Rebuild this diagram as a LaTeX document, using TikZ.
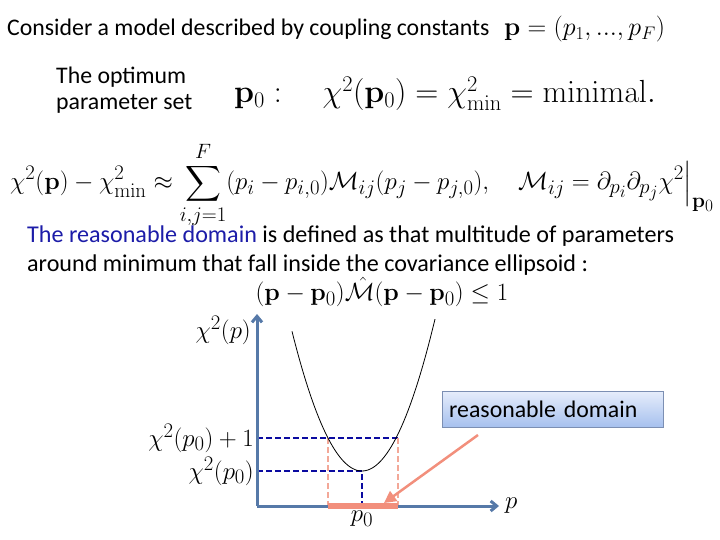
\documentclass[tikz,border=0pt]{standalone}
\usepackage{fix-cm}
\usepackage{amsmath}
\usepackage[no-math]{fontspec}
\setmainfont{Carlito}
\definecolor{axisblue}{HTML}{5679A8}
\definecolor{levelblue}{HTML}{0A0AA0}
\definecolor{salmon}{HTML}{F28F7C}
\definecolor{paleSalmon}{HTML}{F3A898}
\definecolor{textblue}{HTML}{1C1CA8}
\definecolor{boxedge}{HTML}{7C8FB3}
\definecolor{boxtop}{HTML}{E6EDFB}
\definecolor{boxbottom}{HTML}{A6C0EE}
\usetikzlibrary{positioning, arrows.meta}

\begin{document}
\begin{tikzpicture}[x=1pt, y=-1pt,
  txt/.style={font=\fontsize{23.8}{26}\selectfont, inner sep=0pt, align=left},
  mth/.style={font=\fontsize{24.88}{30}\selectfont, inner sep=0pt},
  axis/.style={draw=axisblue, line width=3pt, -{Straight Barb[length=6pt, width=10pt]}},
  level/.style={draw=levelblue, line width=2.2pt, dash pattern=on 6pt off 3pt},
  bound/.style={draw=paleSalmon, line width=2.2pt, dash pattern=on 6pt off 3pt},
  tag/.style={draw=boxedge, top color=boxtop, bottom color=boxbottom,
              minimum width=221pt, minimum height=36pt, inner xsep=7pt,
              text width=207pt, align=left,
              font=\fontsize{23.8}{26}\selectfont},
]
\useasboundingbox (0,0) rectangle (720,540);

% header and formulas
\node[txt, anchor=base west] (intro) at (7,36) {Consider a model described by coupling constants};
\node[mth, anchor=base west, font=\fontsize{26}{30}\selectfont] (pvec) at (504,36) {$\mathbf{p}=(p_1,...,p_F)$};
\node[txt, anchor=base west] (optimum) at (56,110) {The optimum\\parameter set};
\node[mth, anchor=base west, font=\fontsize{32}{38}\selectfont] (minimal) at (234,103)
  {$\mathbf{p}_0:\quad \chi^2(\mathbf{p}_0)=\chi^2_{\min}=\mathrm{minimal.}$};
\node[mth, anchor=west] (expand) at (10,185)
  {$\displaystyle \chi^2(\mathbf{p})-\chi^2_{\min}\approx\sum_{i,j=1}^{F}(p_i-p_{i,0})\mathcal{M}_{ij}(p_j-p_{j,0}),\quad
   \mathcal{M}_{ij}=\partial_{p_i}\partial_{p_j}\chi^2\Big|_{\mathbf{p}_0}$};
\node[txt, anchor=base west, font=\fontsize{24.1}{29}\selectfont] (domain) at (27,271)
  {\textcolor{textblue}{The reasonable domain} is defined as that multitude of parameters\\
   around minimum that fall inside the covariance ellipsoid :};
\node[mth, anchor=center] (ellipsoid) at (382,292)
  {$(\mathbf{p}-\mathbf{p}_0)\hat{\mathcal{M}}(\mathbf{p}-\mathbf{p}_0)\le 1$};

% plot
\coordinate (origin) at (257,506);
\coordinate (ytop) at (257,314);
\coordinate (xend) at (499,506);
\coordinate (minpt) at (362,471);
\coordinate (lcross) at (328,438);
\coordinate (rcross) at (398,438);

\draw[level] (257,438) -- (rcross);
\draw[level] (257,471) -- (minpt) -- (362,506);
\draw[bound] (lcross) -- (328,506);
\draw[bound] (rcross) -- (398,506);
\draw[black, line width=0.8pt, domain=292:435, samples=60, variable=\t]
  plot (\t, {471 - 0.0285*(\t-362)*(\t-362)});
\draw[axis] (origin) -- (ytop);
\draw[axis] (origin) -- (xend);
\draw[salmon, line width=6pt] (lcross |- origin) -- (rcross |- origin);

\node[mth, anchor=east] (ylab) at (251,330) {$\chi^2(p)$};
\node[mth, anchor=east] (lvlone) at (254,438) {$\chi^2(p_0)+1$};
\node[mth, anchor=east] (lvlzero) at (254,471) {$\chi^2(p_0)$};
\node[mth, anchor=north] (pzero) at (362,511) {$p_0$};
\node[mth, anchor=west] (xlab) at (505,506) {$p$};

\node[tag, anchor=north west] (rbox) at (442,391) {reasonable domain};
\coordinate (tail) at (478,435);
\draw[salmon, line width=2.5pt, -{Triangle[length=12pt, width=12pt]}] (tail) -- (384,503);
\end{tikzpicture}
\end{document}
